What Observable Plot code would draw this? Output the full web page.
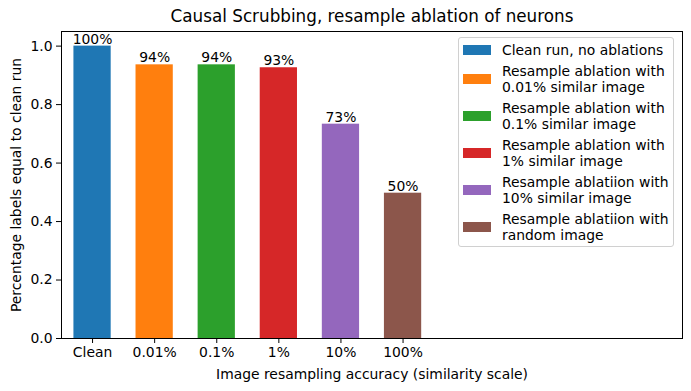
<!DOCTYPE html>
<html>
<head>
<meta charset="utf-8">
<script src="https://cdn.jsdelivr.net/npm/d3@7"></script>
<script src="https://cdn.jsdelivr.net/npm/@observablehq/plot@0.6"></script>
<style>
  body { margin: 0; background: white; font-family: "DejaVu Sans", sans-serif; }
  #wrap { position: relative; width: 691px; height: 391px; }
  #legend { position: absolute; left: 458px; top: 37px; width: 216px; height: 210px;
    border: 1px solid #d0d0d0; border-radius: 3px; background: rgba(255,255,255,0.8);
    box-sizing: border-box; padding: 4px 0 0 4px; display: flex; flex-direction: column; gap: 5px;
    font-size: 13.9px; color: #000; }
  .row { display: flex; align-items: center; }
  .sw { width: 28px; height: 10px; flex: none; margin-right: 11px; }
  .lab { white-space: pre-line; line-height: 16px; }
</style>
</head>
<body>
<div id="wrap"></div>
<script>
const categories = ["Clean", "0.01%", "0.1%", "1%", "10%", "100%"];
const values = [1.0, 0.936, 0.936, 0.926, 0.733, 0.497];
const barLabels = ["100%", "94%", "94%", "93%", "73%", "50%"];
const colors = ["#1f77b4", "#ff7f0e", "#2ca02c", "#d62728", "#9467bd", "#8c564b"];
const legendLabels = [
  "Clean run, no ablations",
  "Resample ablation with\n0.01% similar image",
  "Resample ablation with\n0.1% similar image",
  "Resample ablation with\n1% similar image",
  "Resample ablatiion with\n10% similar image",
  "Resample ablatiion with\nrandom image"
];
const yTicks = [0, 0.2, 0.4, 0.6, 0.8, 1.0];
const title = "Causal Scrubbing, resample ablation of neurons";
const xLabel = "Image resampling accuracy (similarity scale)";
const yLabel = "Percentage labels equal to clean run";

const data = categories.map((c, i) => ({i, cat: c, value: values[i], label: barLabels[i], color: colors[i]}));
const halfWidth = 0.3;

const chart = Plot.plot({
  width: 691,
  height: 391,
  marginLeft: 61,
  marginRight: 9,
  marginTop: 31,
  marginBottom: 53,
  style: {fontFamily: "DejaVu Sans, sans-serif", fontSize: "13.9px", color: "#000", background: "white", overflow: "visible"},
  x: {type: "linear", domain: [-0.5, 9.5]},
  y: {domain: [0, 1.05]},
  color: {type: "identity"},
  marks: [
    Plot.rectY(data, {x1: d => d.i - halfWidth, x2: d => d.i + halfWidth, y: "value", fill: "color"}),
    Plot.text(data, {x: "i", y: "value", text: "label", lineAnchor: "middle", dy: -7, fill: "#000", fontSize: 13.9}),
    Plot.axisX(d3.range(categories.length), {tickFormat: i => categories[i], tickSize: 5, tickPadding: 4, label: null, stroke: "#000", fill: "#000", fontSize: 13.9}),
    Plot.axisY(yTicks, {tickFormat: d3.format(".1f"), tickSize: 5, tickPadding: 4, label: null, stroke: "#000", fill: "#000", fontSize: 13.9}),
    Plot.frame({stroke: "#000", strokeWidth: 1}),
    Plot.text([title], {frameAnchor: "top", lineAnchor: "middle", dy: -15, fontSize: 16.8, fill: "#000"}),
    Plot.text([xLabel], {frameAnchor: "bottom", lineAnchor: "middle", dy: 36, fontSize: 13.9, fill: "#000"}),
    Plot.text([yLabel], {frameAnchor: "left", textAnchor: "middle", lineAnchor: "middle", dx: -45, rotate: -90, fontSize: 13.9, fill: "#000"})
  ]
});

const wrap = document.getElementById("wrap");
wrap.appendChild(chart);
const legend = document.createElement("div");
legend.id = "legend";
legendLabels.forEach((l, i) => {
  const row = document.createElement("div");
  row.className = "row";
  const sw = document.createElement("div");
  sw.className = "sw";
  sw.style.background = colors[i];
  const lab = document.createElement("div");
  lab.className = "lab";
  lab.textContent = l;
  row.appendChild(sw);
  row.appendChild(lab);
  legend.appendChild(row);
});
wrap.appendChild(legend);
</script>
</body>
</html>
